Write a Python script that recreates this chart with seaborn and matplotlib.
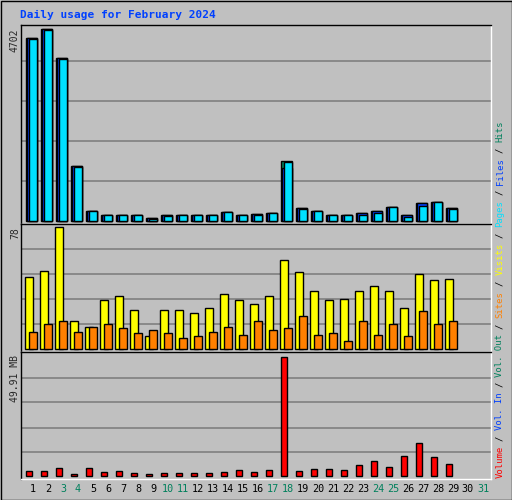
import numpy as np
import pandas as pd
import matplotlib
matplotlib.use("Agg")
import matplotlib.pyplot as plt
import seaborn as sns

days = list(range(1, 32))
n = 29
hits = [4481, 4702, 3990, 1343, 229, 131, 131, 131, 57, 131, 131, 131, 131, 205, 131, 156, 180,
        1458, 303, 229, 131, 131, 180, 229, 328, 131, 426, 451, 303]
files = [4481, 4702, 3990, 1343, 229, 131, 131, 131, 57, 131, 131, 131, 131, 205, 131, 156, 180,
         1286, 303, 229, 131, 131, 180, 229, 328, 131, 426, 451, 303]
pages = [4465, 4690, 3975, 1311, 229, 131, 131, 131, 33, 106, 131, 131, 131, 205, 131, 131, 180,
         1434, 278, 229, 131, 131, 131, 180, 328, 82, 352, 451, 278]
visits = [46, 50, 78, 18, 14, 31, 34, 25, 8, 25, 25, 23, 26, 35, 31, 29, 34, 57, 49, 37, 31, 32,
          37, 40, 37, 26, 48, 44, 45]
sites = [11, 16, 18, 11, 14, 16, 13, 10, 12, 10, 7, 8, 11, 14, 9, 18, 12, 13, 21, 9, 10, 5,
         18, 9, 16, 8, 24, 16, 18]
volume = [1.95, 1.95, 3.2, 0.56, 3.2, 1.5, 1.95, 1.1, 0.56, 1.1, 1.1, 1.1, 1.1, 1.5, 2.4, 1.5,
          2.4, 49.91, 1.95, 2.8, 2.8, 2.4, 4.5, 6.1, 3.6, 8.2, 13.7, 7.8, 4.9]
weekend = [3, 4, 10, 11, 17, 18, 24, 25, 31]

GRAY = "#c0c0c0"
GREEN, BLUE, CYAN = "#00805c", "#0040ff", "#00e0ff"
YEL, ORA, RED = "#ffff00", "#ff8000", "#ff0000"

sns.set_style("white")
plt.rcParams["font.family"] = ["DejaVu Sans Mono"]

W, H = 512, 500
fig = plt.figure(figsize=(W / 100, H / 100), dpi=100, facecolor=GRAY)
d = np.array(days[:n], dtype=float)

def mkax(top, bot):
    ax = fig.add_axes([20.7 / W, 1 - bot / H, 470 / W, (bot - top) / H])
    ax.set_facecolor(GRAY)
    ax.set_xlim(0.18, 31.51)
    for s in ax.spines.values():
        s.set_color("black"); s.set_linewidth(1)
    ax.spines["bottom"].set_color("white")
    ax.spines["right"].set_color("white")
    return ax

def bars(ax, x, y, w, c):
    sns.barplot(x=x, y=y, native_scale=True, width=w, color=c, edgecolor="black",
                linewidth=1, saturation=1, ax=ax, zorder=3)

def grid(ax, vals, lim):
    ax.set_ylim(*lim)
    for v in vals:
        ax.axhline(v, color="#808080", lw=1.2, zorder=1)
    ax.set_yticks([]); ax.set_xticks([])
    ax.set_xlim(0.18, 31.51)
    ax.set_xlabel(""); ax.set_ylabel("")

ax1 = mkax(25, 224)
bars(ax1, d - 0.125, hits, 0.75, GREEN)
bars(ax1, d - 0.075, files, 0.65, BLUE)
bars(ax1, d, pages, 0.5, CYAN)
grid(ax1, [983 * k for k in range(1, 5)], (-82, 4808))

ax2 = mkax(224, 352)
bars(ax2, d - 0.245, visits, 0.53, YEL)
bars(ax2, d, sites, 0.5, ORA)
grid(ax2, [15.6, 31.85, 48.1, 64.35], (-2.17, 80.2))

ax3 = mkax(352, 479)
bars(ax3, d - 0.275, volume, 0.45, RED)
grid(ax3, [9.76, 20.2, 30.7, 41.1], (-1.39, 51.86))

fs = 7
fig.text(20 / W, 1 - 15 / H, "Daily usage for February 2024", color=BLUE, fontsize=8,
         fontweight="bold", va="center", ha="left")
fig.text(15 / W, 1 - 28 / H, "4702", rotation=90, fontsize=fs, va="top", ha="center")
fig.text(15 / W, 1 - 227 / H, "78", rotation=90, fontsize=fs, va="top", ha="center")
fig.text(15 / W, 1 - 355 / H, "49.91 MB", rotation=90, fontsize=fs, va="top", ha="center")

for dd in days:
    fig.text((33 + (dd - 1) * 15) / W, 1 - 489 / H, str(dd), fontsize=7.3, ha="center",
             va="center", color=GREEN if dd in weekend else "black")

segs = [("Volume", RED), ("/", "black"), ("Vol. In", BLUE), ("/", "black"),
        ("Vol. Out", GREEN), ("/", "black"), ("Sites", ORA), ("/", "black"),
        ("Visits", YEL), ("/", "black"), ("Pages", CYAN), ("/", "black"),
        ("Files", BLUE), ("/", "black"), ("Hits", GREEN)]
y = 478.0
fsr = 6.4
cw = 0.6 * fsr * 100 / 72
for t, c in segs:
    fig.text(500 / W, 1 - (y - cw) / H, t, rotation=90, fontsize=fsr, color=c, ha="center",
             va="bottom") if t == "/" else fig.text(500 / W, 1 - y / H, t, rotation=90,
             fontsize=fsr, color=c, ha="center", va="bottom")
    y -= cw * (len(t) + 2 if t == "/" else len(t))

fig.patches.append(plt.Rectangle((0.5 / W, 0.5 / H), 1 - 1 / W, 1 - 1 / H, transform=fig.transFigure,
                                 fill=False, ec="black", lw=1))
fig.savefig("out.png", dpi=100, facecolor=GRAY)
